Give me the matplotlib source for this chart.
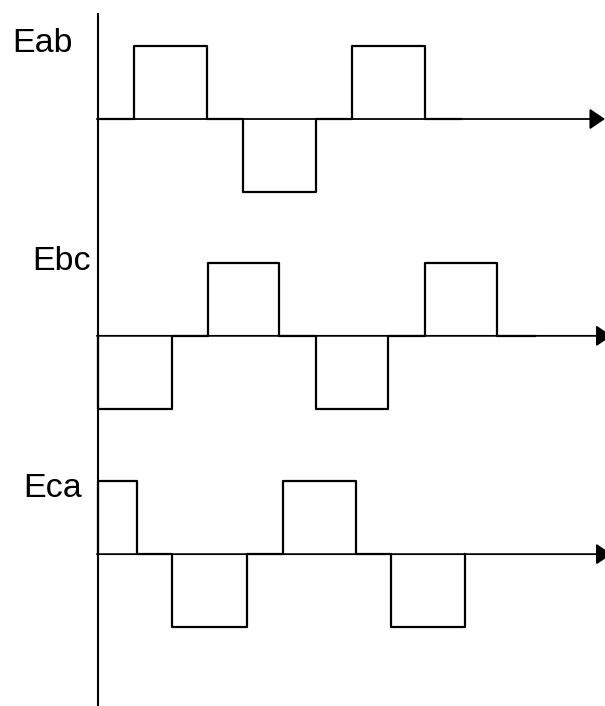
import numpy as np
import matplotlib
matplotlib.use('Agg')
import matplotlib.pyplot as plt

# waveform data: switching instants (in unit steps) and levels between them
names = ['Eab', 'Ebc', 'Eca']
eab_t = [0, 1, 3, 4, 6, 7, 9, 10]
eab_v = [0, 1, 0, -1, 0, 1, 0]
ebc_t = [0, 2.05, 3.02, 5, 6.02, 8, 9, 11, 12.05]
ebc_v = [-1, 0, 1, 0, -1, 0, 1, 0]
eca_t = [0, 1.08, 2.05, 4.1, 5.1, 7.1, 8.07, 10.1]
eca_v = [1, 0, -1, 0, 1, 0, -1]

waves = [(eab_t, eab_v), (ebc_t, ebc_v), (eca_t, eca_v)]
offsets = [0, -2.97, -5.96]
arrow_tips = [13.97, 14.15, 14.15]
label_pos = [(-2.37, 0.92), (-1.82, 0.90), (-2.07, 0.78)]

fig = plt.figure(figsize=(6.05, 7.06), dpi=100)
ax = fig.add_axes([0, 0, 1, 1])
ax.set_xlim(-2.70, 13.97)
ax.set_ylim(-8.04, 1.63)
ax.axis('off')

# vertical axis
ax.plot([0, 0], [1.45, -8.1], color='black', lw=1.5, solid_capstyle='butt')

for (t, v), off, tip, (lx, ly), name in zip(waves, offsets, arrow_tips, label_pos, names):
    # horizontal axis with arrow head
    ax.annotate('', xy=(tip, off), xytext=(-0.03, off), annotation_clip=False,
                arrowprops=dict(arrowstyle='-|>,head_length=0.47,head_width=0.32',
                                mutation_scale=20, lw=1.3, color='black',
                                shrinkA=0, shrinkB=0))
    # square wave, starting and ending on the baseline
    xs, ys = [t[0]], [0]
    for i, lev in enumerate(v):
        xs += [t[i], t[i + 1]]
        ys += [lev, lev]
    xs.append(t[-1])
    ys.append(0)
    ax.plot(xs, np.array(ys) + off, color='black', lw=1.6)
    ax.text(lx, ly + off, name, fontsize=24.5, family='Liberation Sans',
            ha='left', va='baseline')

fig.savefig('out.png', dpi=100)
